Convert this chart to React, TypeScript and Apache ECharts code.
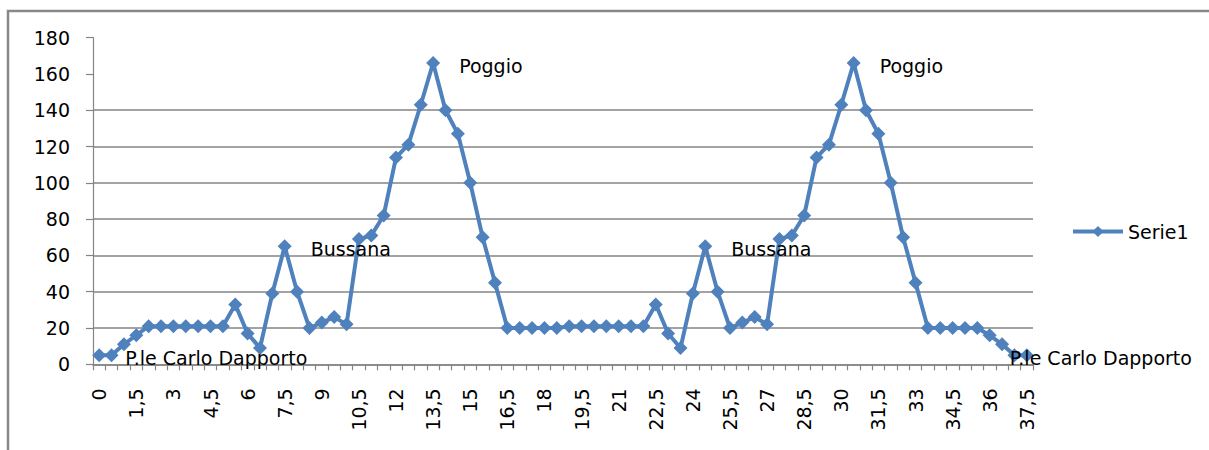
import React, { useEffect, useRef } from "react";
import * as echarts from "echarts";

const categories: string[] = [];
for (let i = 0; i <= 75; i++) {
  const v = i / 2;
  categories.push(String(v).replace(".", ","));
}

const serie1: number[] = [
  5, 5, 11, 16, 21, 21, 21, 21, 21, 21,
  21, 33, 17, 9, 39, 65, 40, 20, 23, 26,
  22, 69, 71, 82, 114, 121, 143, 166, 140, 127,
  100, 70, 45, 20, 20, 20, 20, 20, 21, 21,
  21, 21, 21, 21, 21, 33, 17, 9, 39, 65,
  40, 20, 23, 26, 22, 69, 71, 82, 114, 121,
  143, 166, 140, 127, 100, 70, 45, 20, 20, 20,
  20, 20, 16, 11, 5, 5,
];

const labelIndices: number[] = [0, 15, 27, 49, 61, 75];
const labelTexts: string[] = [
  "P.le Carlo Dapporto",
  "Bussana",
  "Poggio",
  "Bussana",
  "Poggio",
  "P.le Carlo Dapporto",
];

const yTicks = [0, 20, 40, 60, 80, 100, 120, 140, 160, 180];

const FONT = "DejaVu Sans";
const FS = 19;
const GRID = "#858585";
const BLUE = "#4F81BD";

export default function App() {
  const ref = useRef<HTMLDivElement>(null);
  useEffect(() => {
    if (!ref.current) return;
    const chart = echarts.init(ref.current, null, { renderer: "svg" });
    const data = serie1.map((v, i) => {
      const k = labelIndices.indexOf(i);
      if (k < 0) return v;
      return {
        value: v,
        label: {
          show: true,
          formatter: labelTexts[k],
          position: "right",
          distance: 19,
          offset: i === 75 ? [-43, 3] : [0, 3],
          color: "#000",
          fontFamily: FONT,
          fontSize: FS,
        },
      };
    });
    chart.setOption({
      animation: false,
      backgroundColor: "#fff",
      textStyle: { fontFamily: FONT },
      grid: { left: 93, right: 176, top: 37.6, bottom: 85.7, containLabel: false },
      legend: {
        left: 1071,
        top: 222,
        padding: 0,
        itemWidth: 50,
        itemHeight: 14,
        lineStyle: { width: 4, color: BLUE },
        textStyle: { fontFamily: FONT, fontSize: FS, color: "#000" },
        data: ["Serie1"],
      },
      graphic: [
        {
          type: "polyline",
          shape: { points: [[8, 460], [8, 11], [1220, 11]] },
          style: { stroke: "#888", lineWidth: 2.5, fill: "none" },
        },
      ],
      xAxis: {
        type: "category",
        data: categories,
        boundaryGap: true,
        axisLine: { lineStyle: { color: GRID, width: 1.5 } },
        axisTick: { show: true, interval: 0, length: 6, lineStyle: { color: GRID, width: 1.2 } },
        axisLabel: {
          interval: 2,
          rotate: 90,
          margin: 24,
          color: "#000",
          fontFamily: FONT,
          fontSize: FS,
        },
        splitLine: { show: false },
      },
      yAxis: {
        type: "value",
        min: 0,
        max: 180,
        interval: 20,
        axisLine: { show: true, lineStyle: { color: GRID, width: 1.2 } },
        axisTick: { show: true, length: 7, lineStyle: { color: GRID, width: 1.2 } },
        axisLabel: { margin: 23, color: "#000", fontFamily: FONT, fontSize: FS },
        splitLine: {
          show: true,
          lineStyle: {
            color: yTicks.map((t) => (t >= 160 ? "rgba(0,0,0,0)" : GRID)),
            width: 1.7,
          },
        },
      },
      series: [
        {
          name: "Serie1",
          type: "line",
          data,
          symbol: "diamond",
          symbolSize: 14,
          showAllSymbol: true,
          lineStyle: { color: BLUE, width: 4 },
          itemStyle: { color: BLUE },
        },
      ],
    });
    return () => chart.dispose();
  }, []);
  return (
    <div
      ref={ref}
      style={{ position: "fixed", left: 0, top: 0, width: 1209, height: 450 }}
    />
  );
}
